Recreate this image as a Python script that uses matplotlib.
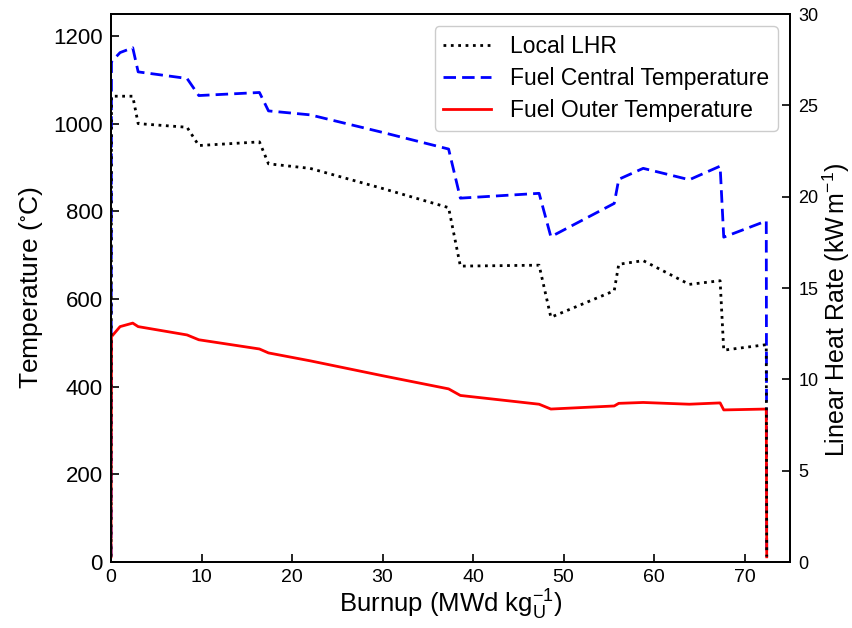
"""Fuel temperature and local LHR against burnup."""

import matplotlib
matplotlib.use("Agg")
import matplotlib.pyplot as plt
from matplotlib.lines import Line2D

plt.rcParams["font.family"] = ["Liberation Sans", "DejaVu Sans"]
plt.rcParams["mathtext.fontset"] = "custom"
plt.rcParams["mathtext.rm"] = "Liberation Sans"
plt.rcParams["mathtext.it"] = "Liberation Sans:italic"
plt.rcParams["mathtext.default"] = "regular"

# -----------------------------------------------------------------------------
# Data
# -----------------------------------------------------------------------------

burnup = [0.0, 0.05, 1.0, 2.4, 3.0, 8.4, 9.7, 16.4, 17.4, 22.0, 30.0, 37.3,
          38.6, 47.3, 48.6, 55.6, 56.1, 58.8, 63.9, 67.3, 67.7, 72.4, 72.45]

# Local linear heat rate (kW/m), right axis
local_lhr = [0.3, 25.5, 25.5, 25.5, 24.0, 23.8, 22.8, 23.0, 21.8, 21.55, 20.45,
             19.4, 16.2, 16.25, 13.4, 14.85, 16.3, 16.5, 15.2, 15.4, 11.6, 11.9, 0.3]

# Fuel central temperature (degC), left axis
central_temp = [12, 1141, 1162, 1173, 1118, 1103, 1064, 1071, 1029, 1020, 980,
                942, 830, 841, 742, 818, 873, 898, 872, 903, 741, 778, 12]

# Fuel outer temperature (degC), left axis
outer_temp = [12, 514, 537, 545, 537, 518, 507, 486, 477, 459, 425, 395, 380,
              360, 349, 356, 362, 364, 360, 363, 347, 349, 12]

# -----------------------------------------------------------------------------
# Plot
# -----------------------------------------------------------------------------

fig = plt.figure(figsize=(8.52, 6.28), dpi=100)
ax = fig.add_axes([0.1303, 0.105, 0.7967, 0.8727])
ax2 = ax.twinx()

ax.plot(burnup, central_temp, color="blue", linestyle="--", linewidth=2.0,
        dashes=(4.5, 2.2))
ax.plot(burnup, outer_temp, color="red", linestyle="-", linewidth=2.0)
ax2.plot(burnup, local_lhr, color="black", linestyle=":", linewidth=2.0)

ax.set_xlim(0, 75)
ax.set_ylim(0, 1250)
ax2.set_ylim(0, 30)
ax.set_xticks([0, 10, 20, 30, 40, 50, 60, 70])
ax.set_yticks([0, 200, 400, 600, 800, 1000, 1200])
ax2.set_yticks([0, 5, 10, 15, 20, 25, 30])

ax.tick_params(axis="both", direction="in", length=6, width=1.2)
ax.tick_params(axis="x", labelsize=14, pad=5)
ax.tick_params(axis="y", labelsize=16, pad=6)
ax2.tick_params(axis="y", direction="in", length=6, width=1.2, labelsize=13, pad=6)

for spine in list(ax.spines.values()) + list(ax2.spines.values()):
    spine.set_linewidth(1.3)

ax.set_xlabel(r"Burnup (MWd kg$_\mathrm{U}^{-1}$)", fontsize=18.5, labelpad=1)
ax.set_ylabel(r"Temperature ($^{\circ}$C)", fontsize=19, labelpad=6)
ax2.set_ylabel(r"Linear Heat Rate (kW$\,$m$^{-1}$)", fontsize=18)
ax2.yaxis.set_label_coords(1.045, 0.46)

handles = [
    Line2D([], [], color="black", linestyle=":", linewidth=2.0),
    Line2D([], [], color="blue", linestyle="--", linewidth=2.0, dashes=(4.5, 2.2)),
    Line2D([], [], color="red", linestyle="-", linewidth=2.0),
]
labels = ["Local LHR", "Fuel Central Temperature", "Fuel Outer Temperature"]
ax2.legend(handles, labels, loc="upper right", fontsize=16.5,
           bbox_to_anchor=(0.982, 0.978), borderaxespad=0, framealpha=1.0,
           handlelength=2.1, handletextpad=0.8, labelspacing=0.4, borderpad=0.38)

fig.savefig("out.png", dpi=100)
